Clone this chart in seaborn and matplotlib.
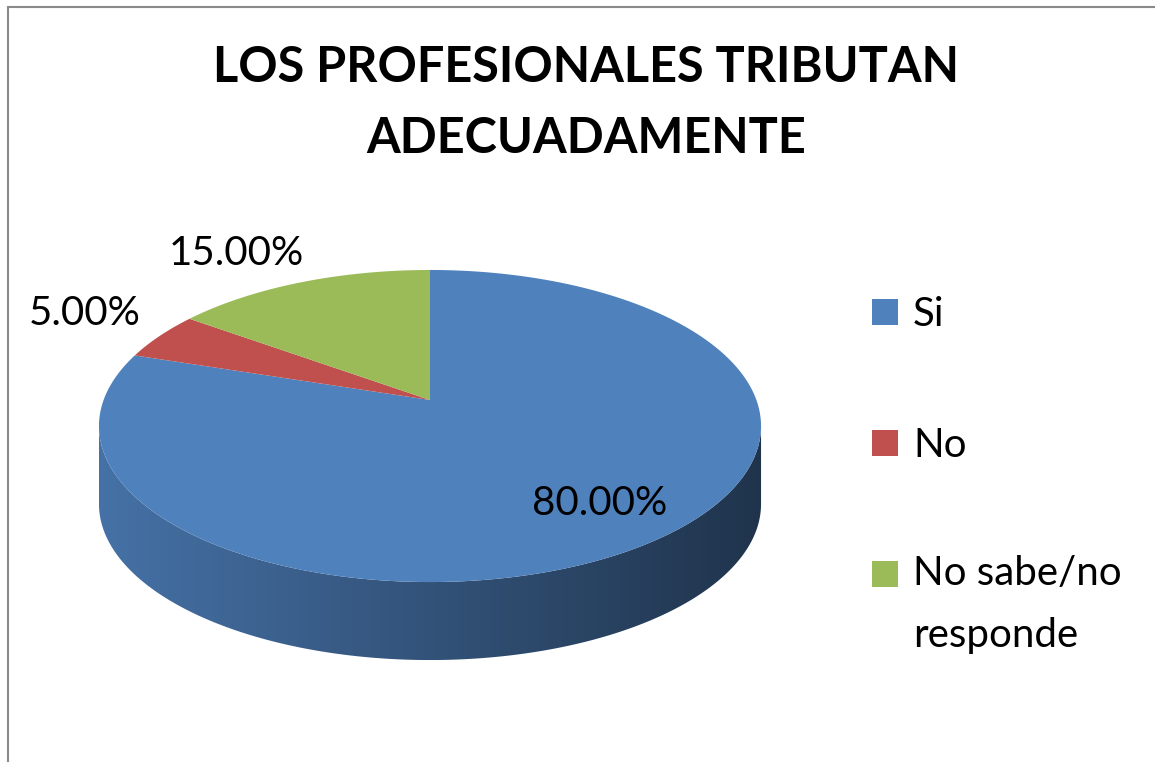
import numpy as np
import matplotlib
matplotlib.use("Agg")
import matplotlib.pyplot as plt
import seaborn as sns
from matplotlib.patches import Polygon, Rectangle
from matplotlib.lines import Line2D
from matplotlib.colors import to_rgb

# ---------------- data ----------------
categories = ["Si", "No", "No sabe/no\nresponde"]
values = [80.0, 5.0, 15.0]
label_texts = ["80.00%", "5.00%", "15.00%"]
title_text = "LOS PROFESIONALES TRIBUTAN\nADECUADAMENTE"

# ---------------- style ----------------
colors = ["#4F81BD", "#C0504D", "#9BBB59"]
label_pos = [(600, 515), (85, 325), (236, 265)]   # (x centre, baseline) in px

sns.set_theme(style="white")
plt.rcParams['font.family'] = ['Lato', 'DejaVu Sans']

W, H = 1155, 762
fig = plt.figure(figsize=(W / 100, H / 100), dpi=100)
fig.patch.set_facecolor("white")
ax = fig.add_axes([0, 0, 1, 1])

wedges, _ = ax.pie(values, colors=colors, startangle=90, counterclock=False,
                   radius=1.0, center=(0, 0))
for w in wedges:
    w.set_visible(False)
ax.set_aspect('auto')
ax.set_xlim(0, W)
ax.set_ylim(H, 0)
ax.axis('off')

# perspective projection of the unit disk onto the page (pixels)
CX, CY = 430, 400
SX, Q, P = 326.4, 151.7, 0.1667
DEPTH = 78


def proj(x, y):
    d = 1 + P * y
    return CX + SX * x / d, CY - Q * y / d


a = np.degrees(np.arcsin(P))
front_lo, front_hi = 180 + a, 360 - a
XL = proj(np.cos(np.radians(front_lo)), np.sin(np.radians(front_lo)))[0]
XR = proj(np.cos(np.radians(front_hi)), np.sin(np.radians(front_hi)))[0]

# side walls (front, visible part)
for w in wedges:
    base = np.array(to_rgb(w.get_facecolor()[:3]))
    for k in (-1, 0, 1):
        lo = max(w.theta1 + 360 * k, front_lo)
        hi = min(w.theta2 + 360 * k, front_hi)
        if lo >= hi:
            continue
        th = np.radians(np.linspace(lo, hi, 300))
        ux, uy = proj(np.cos(th), np.sin(th))
        top = np.column_stack([ux, uy])
        bot = np.column_stack([ux, uy + DEPTH])[::-1]
        poly = np.vstack([top, bot])
        patch = Polygon(poly, closed=True, facecolor='none', edgecolor='none',
                        transform=ax.transData)
        ax.add_patch(patch)
        x0, x1 = poly[:, 0].min(), poly[:, 0].max()
        y0, y1 = poly[:, 1].min(), poly[:, 1].max()
        xs = np.linspace(x0, x1, 500)
        f = 0.88 - 0.48 * (xs - XL) / (XR - XL)
        img = np.clip(base[None, None, :] * f[None, :, None], 0, 1)
        im = ax.imshow(img, extent=(x0, x1, y1, y0), aspect='auto',
                       interpolation='bilinear', zorder=1)
        im.set_clip_path(patch)

# top surface
for w in wedges:
    th = np.radians(np.linspace(w.theta1, w.theta2, 300))
    ux, uy = proj(np.cos(th), np.sin(th))
    cx0, cy0 = proj(0.0, 0.0)
    pts = np.vstack([[cx0, cy0], np.column_stack([ux, uy])])
    ax.add_patch(Polygon(pts, closed=True, facecolor=w.get_facecolor(),
                         edgecolor='none', zorder=2))
ax.set_xlim(0, W)
ax.set_ylim(H, 0)

# data labels
for txt, (lx, ly) in zip(label_texts, label_pos):
    ax.text(lx, ly, txt, ha='center', va='baseline', fontsize=29,
            color='black', zorder=5)

# title (baseline given for last line)
ax.text(586, 153, title_text, ha='center', va='baseline', fontsize=35,
        fontweight='bold', color='black', linespacing=1.71, zorder=5)

# legend
LEG_X, LEG_Y0, LEG_DY, SQ = 872, 312, 131, 26
LINE_PITCH = 59
for i, (cat, col) in enumerate(zip(categories, colors)):
    yc = LEG_Y0 + i * LEG_DY
    ax.add_patch(Rectangle((LEG_X, yc - SQ / 2), SQ, SQ, facecolor=col,
                           edgecolor='none', zorder=5))
    nlines = cat.count("\n")
    ax.text(LEG_X + 41, yc + 14 + nlines * LINE_PITCH, cat, ha='left',
            va='baseline', fontsize=29, color='black', linespacing=1.83,
            zorder=5)

# chart border (top and left visible)
fig.add_artist(Line2D([8 / W, 1], [1 - 7 / H, 1 - 7 / H], color='#8a8a8a',
                      lw=1.5, transform=fig.transFigure))
fig.add_artist(Line2D([8 / W, 8 / W], [0, 1 - 7 / H], color='#8a8a8a',
                      lw=1.5, transform=fig.transFigure))

fig.savefig("out.png", dpi=100, facecolor="white")
